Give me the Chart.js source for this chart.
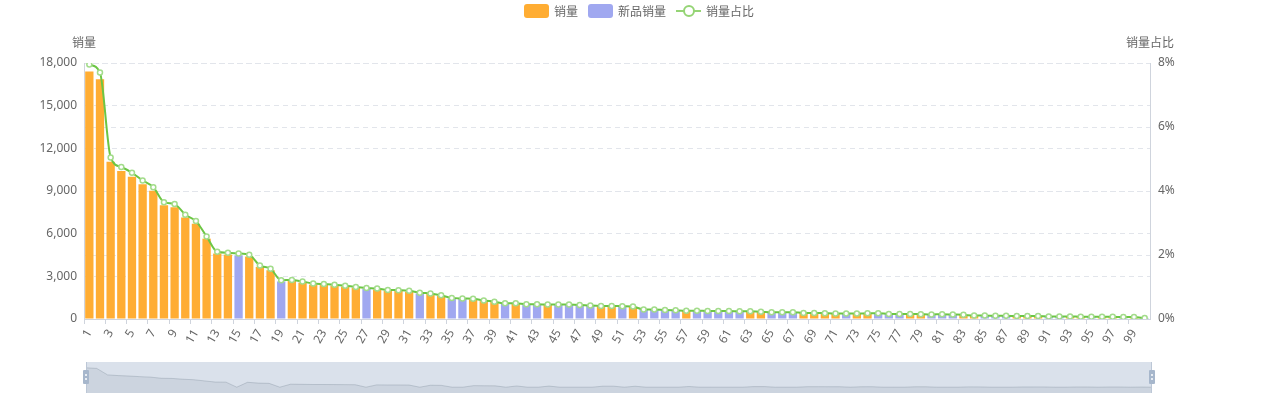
<!DOCTYPE html>
<html>
<head>
<meta charset="utf-8">
<script src="https://cdn.jsdelivr.net/npm/chart.js@4.4.1/dist/chart.umd.min.js"></script>
<style>
html,body{margin:0;padding:0;background:#fff;overflow:hidden;}
#wrap{position:relative;width:1278px;height:400px;}
#main{position:absolute;left:0;top:0;}
#legend{position:absolute;top:4px;left:0;width:1278px;height:14px;display:flex;justify-content:center;font:12px "Noto Sans CJK SC","Noto Sans",sans-serif;color:#666;}
.item{display:flex;align-items:center;height:14px;margin:0 5px;white-space:nowrap;line-height:14px;}
.box{width:25px;height:14px;border-radius:3px;margin-right:5px;}
.lineicon{position:relative;width:25px;height:14px;margin-right:5px;}
.lineicon .l{position:absolute;left:0;top:6px;width:25px;height:2px;background:#95d475;}
.lineicon .c{position:absolute;left:6.5px;top:1px;width:8px;height:8px;border:2px solid #95d475;border-radius:50%;background:#fff;}
#slider{position:absolute;left:86px;top:362px;width:1066px;height:31px;background:#dae1eb;}
#shadow{position:absolute;left:0;top:0;}
.edge{position:absolute;top:0;width:1px;height:31px;background:#bcc7d6;}
.handle{position:absolute;top:8px;width:6px;height:14px;background:#a7b7cc;border-radius:1px;}
.handle i{position:absolute;left:2px;width:2px;height:2px;background:#e8edf3;}
</style>
</head>
<body>
<div id="wrap">
  <canvas id="main" width="1278" height="400"></canvas>
  <div id="legend"></div>
  <div id="slider">
    <canvas id="shadow" width="1066" height="31"></canvas>
    <div class="edge" style="left:0"></div>
    <div class="edge" style="left:1065px"></div>
    <div class="handle" style="left:-3px"><i style="top:4px"></i><i style="top:8px"></i></div>
    <div class="handle" style="left:1063px"><i style="top:4px"></i><i style="top:8px"></i></div>
  </div>
</div>
<script>
// ---------- data ----------
const categories = ['1','2','3','4','5','6','7','8','9','10','11','12','13','14','15','16','17','18','19','20',
'21','22','23','24','25','26','27','28','29','30','31','32','33','34','35','36','37','38','39','40',
'41','42','43','44','45','46','47','48','49','50','51','52','53','54','55','56','57','58','59','60',
'61','62','63','64','65','66','67','68','69','70','71','72','73','74','75','76','77','78','79','80',
'81','82','83','84','85','86','87','88','89','90','91','92','93','94','95','96','97','98','99','100'];

// 销量 (regular items)
const sales = [17400,16850,11050,10400,10000,9470,9020,8000,7850,7130,
6700,5650,4600,4530,0,4390,3660,3430,0,2680,
2560,2420,2390,2350,2280,2190,0,2070,1990,1980,
1920,0,1750,1620,0,0,1370,1260,1190,0,
1070,0,0,985,0,0,0,0,890,890,
0,845,0,0,0,0,580,0,0,0,
0,0,515,510,0,0,0,425,420,400,
380,0,375,400,0,0,0,350,330,0,
0,0,280,235,0,0,0,200,200,195,
0,0,175,160,0,150,148,0,125,0];

// 新品销量 (new items)
const newSales = [0,0,0,0,0,0,0,0,0,0,
0,0,0,0,4480,0,0,0,2640,0,
0,0,0,0,0,0,2120,0,0,0,
0,1800,0,0,1440,1410,0,0,0,1080,
0,1010,1000,0,980,985,965,920,0,0,
870,0,660,650,620,600,0,575,550,550,
540,530,0,0,470,460,450,0,0,0,
0,370,0,0,395,360,355,0,0,310,
320,300,0,0,230,215,210,0,0,0,
185,180,0,0,155,0,0,130,0,75];

// 销量占比 (%)
const share = [7.95,7.70,5.05,4.75,4.57,4.33,4.12,3.65,3.59,3.26,
3.06,2.58,2.10,2.07,2.05,2.01,1.67,1.57,1.21,1.22,
1.17,1.11,1.09,1.07,1.04,1.00,0.97,0.95,0.91,0.90,
0.88,0.82,0.80,0.74,0.66,0.64,0.63,0.58,0.54,0.49,
0.49,0.46,0.46,0.45,0.45,0.45,0.44,0.42,0.41,0.41,
0.40,0.39,0.30,0.30,0.28,0.27,0.26,0.26,0.25,0.25,
0.25,0.24,0.24,0.23,0.21,0.21,0.21,0.19,0.19,0.18,
0.17,0.17,0.17,0.18,0.18,0.16,0.16,0.16,0.15,0.14,
0.15,0.14,0.13,0.11,0.11,0.10,0.10,0.09,0.09,0.09,
0.08,0.08,0.08,0.07,0.07,0.07,0.07,0.06,0.06,0.03];

const leftTicks = [0,3000,6000,9000,12000,15000,18000];
const rightTicks = [0,2,4,6,8];
const seriesNames = ['销量','新品销量','销量占比'];
const axisNames = ['销量','销量占比'];

// ---------- style ----------
const COLORS = {sales:'#ffad33', newSales:'#a0a8f0', line:'#6cc644', point:'#a3dc8b'};
const FONT = '"Noto Sans","Noto Sans CJK SC",sans-serif';
const LABEL = '#666';
const GRID = '#e2e5eb';
const AXIS = '#cfd4dd';

Chart.defaults.font.family = FONT;
Chart.defaults.font.size = 12;
Chart.defaults.color = LABEL;

// legend (HTML)
const lg = document.getElementById('legend');
[[seriesNames[0],'box',COLORS.sales],[seriesNames[1],'box',COLORS.newSales],[seriesNames[2],'line']].forEach(([t,k,c])=>{
  const it = document.createElement('div'); it.className='item';
  const ic = document.createElement('div');
  if(k==='box'){ic.className='box'; ic.style.background=c;}
  else {ic.className='lineicon'; ic.innerHTML='<div class="l"></div><div class="c"></div>';}
  const tx = document.createElement('span'); tx.textContent=t;
  it.appendChild(ic); it.appendChild(tx); lg.appendChild(it);
});

const axisNamePlugin = {
  id:'axisNamePlugin',
  afterDraw(chart){
    const {ctx, chartArea:a} = chart;
    ctx.save();
    ctx.font = '12px "Noto Sans CJK SC","Noto Sans",sans-serif';
    ctx.fillStyle = LABEL;
    ctx.textAlign = 'center';
    ctx.textBaseline = 'middle';
    ctx.fillText(axisNames[0], a.left, a.top - 21);
    ctx.fillText(axisNames[1], a.right, a.top - 21);
    ctx.restore();
  }
};

new Chart(document.getElementById('main'), {
  type:'bar',
  data:{
    labels:categories,
    datasets:[
      {type:'line', label:seriesNames[2], data:share, yAxisID:'y1', order:0,
       borderColor:COLORS.line, borderWidth:2, cubicInterpolationMode:'monotone',
       pointRadius:2.5, pointHoverRadius:2.5, pointBorderWidth:1.5,
       pointBackgroundColor:'#fff', pointBorderColor:COLORS.point},
      {label:seriesNames[0], data:sales, backgroundColor:COLORS.sales, yAxisID:'y', order:1,
       grouped:false, categoryPercentage:1, barPercentage:0.78},
      {label:seriesNames[1], data:newSales, backgroundColor:COLORS.newSales, yAxisID:'y', order:1,
       grouped:false, categoryPercentage:1, barPercentage:0.78}
    ]
  },
  options:{
    responsive:false, animation:false, events:[],
    layout:{padding:{top:63,left:0,right:0,bottom:0}},
    plugins:{legend:{display:false}, tooltip:{enabled:false}},
    scales:{
      x:{
        offset:true,
        grid:{display:true, drawOnChartArea:false, drawTicks:true, tickLength:5,
              color:(c)=> (c.index % 2 === 0 ? AXIS : 'rgba(0,0,0,0)')},
        border:{display:true, color:AXIS},
        ticks:{autoSkip:false, minRotation:60, maxRotation:60, padding:3, color:LABEL,
               callback:(v,i)=> (i % 2 === 0 ? categories[i] : '')},
        afterFit:(s)=>{ s.height = 81; }
      },
      y:{
        position:'left', min:leftTicks[0], max:leftTicks[leftTicks.length-1],
        afterBuildTicks:(s)=>{ s.ticks = leftTicks.map(v=>({value:v})); },
        ticks:{padding:7, color:LABEL, callback:(v)=> Number(v).toLocaleString('en-US')},
        grid:{color:GRID, drawTicks:false},
        border:{display:true, color:AXIS, dash:[5,4]},
        afterFit:(s)=>{ s.width = 84; }
      },
      y1:{
        position:'right', min:rightTicks[0], max:rightTicks[rightTicks.length-1],
        afterBuildTicks:(s)=>{ s.ticks = rightTicks.map(v=>({value:v})); },
        ticks:{padding:8, color:LABEL, callback:(v)=> v + '%'},
        grid:{color:GRID, drawTicks:false},
        border:{display:true, color:AXIS, dash:[5,4]},
        afterFit:(s)=>{ s.width = 128; }
      }
    }
  },
  plugins:[axisNamePlugin]
});

// dataZoom shadow (from the 销量 series)
const sMin = Math.min(...sales), sMax = Math.max(...sales), sPad = (sMax - sMin) * 0.3;
new Chart(document.getElementById('shadow'), {
  type:'line',
  data:{labels:categories, datasets:[{data:sales, fill:'start',
    backgroundColor:'rgba(47,69,84,0.08)', borderColor:'rgba(47,69,84,0.18)',
    borderWidth:1, pointRadius:0, tension:0}]},
  options:{
    responsive:false, animation:false, events:[],
    layout:{padding:0},
    plugins:{legend:{display:false}, tooltip:{enabled:false}},
    scales:{x:{display:false, offset:false}, y:{display:false, min:sMin - sPad, max:sMax + sPad}}
  }
});
</script>
</body>
</html>
